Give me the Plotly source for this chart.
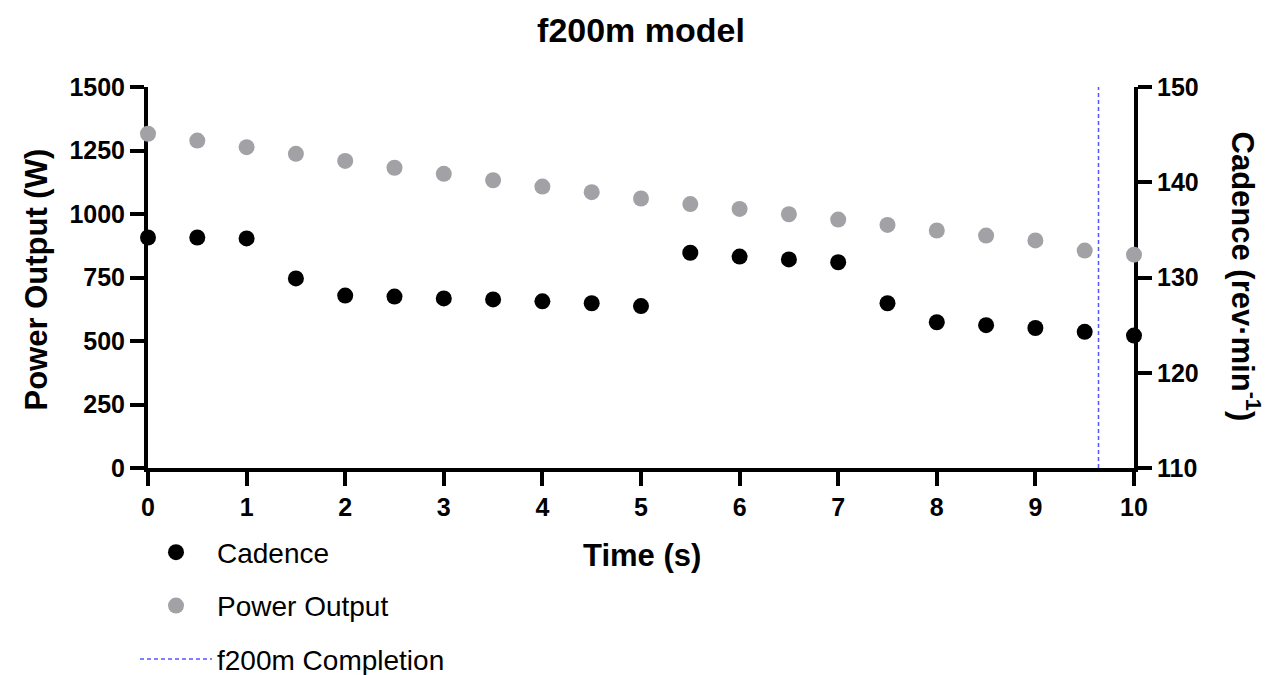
import plotly.graph_objects as go

time_s = [0, 0.5, 1, 1.5, 2, 2.5, 3, 3.5, 4, 4.5, 5, 5.5, 6, 6.5, 7, 7.5, 8, 8.5, 9, 9.5, 10]
cadence = [134.2, 134.2, 134.1, 129.9, 128.1, 128.0, 127.8, 127.7, 127.5, 127.3, 127.0,
           132.6, 132.2, 131.9, 131.6, 127.3, 125.3, 125.0, 124.7, 124.3, 123.9]
power = [1316, 1289, 1263, 1237, 1209, 1182, 1158, 1133, 1108, 1086, 1061,
         1039, 1020, 999, 978, 957, 935, 915, 896, 856, 840]
completion_time = 9.64
power_ticks = [0, 250, 500, 750, 1000, 1250, 1500]
cadence_ticks = [110, 120, 130, 140, 150]
time_ticks = [0, 1, 2, 3, 4, 5, 6, 7, 8, 9, 10]

FONT = "Liberation Sans, Arial, Helvetica, sans-serif"

fig = go.Figure()
fig.add_trace(go.Scatter(
    x=time_s, y=cadence, mode="markers", name="Cadence", yaxis="y2",
    marker=dict(color="#000000", size=16), cliponaxis=False, legendgroup="a"))
fig.add_trace(go.Scatter(
    x=time_s, y=power, mode="markers", name="Power Output", yaxis="y",
    marker=dict(color="#a2a2a6", size=16), cliponaxis=False, legendgroup="b"))
fig.add_trace(go.Scatter(
    x=[completion_time, completion_time], y=[power_ticks[0], power_ticks[-1]],
    mode="lines", name="f200m Completion", yaxis="y",
    line=dict(color="#5555ff", width=1.5, dash="4px,3px"), legendgroup="c"))

axis_common = dict(
    showline=True, linecolor="black", linewidth=4, ticks="outside",
    ticklen=14, tickwidth=4, tickcolor="black", showgrid=False, zeroline=False,
    tickfont=dict(family=FONT, size=25, color="black", weight="bold"),
    layer="below traces")

fig.update_layout(
    width=1286, height=675,
    margin=dict(l=148, r=152, t=87, b=207, autoexpand=False),
    paper_bgcolor="white", plot_bgcolor="white",
    font=dict(family=FONT, color="black"),
    title=dict(text="<b>f200m model</b>", x=(641 / 1286), xanchor="center", y=1 - 30 / 675,
               yanchor="middle", font=dict(family=FONT, size=34, color="black")),
    xaxis=dict(range=[time_ticks[0], time_ticks[-1]], tickvals=time_ticks, **axis_common),
    yaxis=dict(range=[power_ticks[0], power_ticks[-1]], tickvals=power_ticks, **axis_common),
    yaxis2=dict(range=[cadence_ticks[0], cadence_ticks[-1]], tickvals=cadence_ticks,
                overlaying="y", side="right", **axis_common),
    showlegend=True,
    legend=dict(x=-13 / 986, xanchor="left", y=-0.156, yanchor="top", traceorder="grouped",
                tracegroupgap=14, itemwidth=72,
                font=dict(family=FONT, size=28, color="black"), bgcolor="rgba(0,0,0,0)"),
    annotations=[
        dict(text="<b>Power Output (W)</b>", xref="paper", yref="paper",
             x=(36 - 148) / 986, y=(467.5 - 279) / 381, textangle=-90,
             xanchor="center", yanchor="middle", showarrow=False,
             font=dict(family=FONT, size=31, color="black")),
        dict(text="<b>Cadence (rev·min<sup>-1</sup>)</b>", xref="paper", yref="paper",
             x=(1246 - 148) / 986, y=(467.5 - 276) / 381, textangle=90,
             xanchor="center", yanchor="middle", showarrow=False,
             font=dict(family=FONT, size=31, color="black")),
        dict(text="<b>Time (s)</b>", xref="paper", yref="paper",
             x=(642 - 148) / 986, y=(467.5 - 555) / 381,
             xanchor="center", yanchor="middle", showarrow=False,
             font=dict(family=FONT, size=31, color="black")),
    ],
)

fig.write_html("out.html")
